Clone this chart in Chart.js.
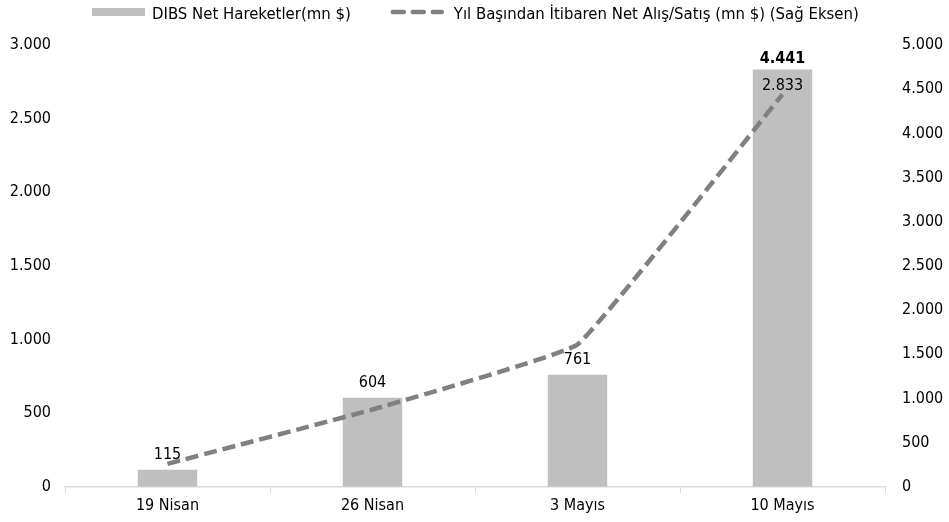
<!DOCTYPE html>
<html><head><meta charset="utf-8">
<script src="https://cdn.jsdelivr.net/npm/chart.js@4.4.1/dist/chart.umd.min.js"></script>
<style>html,body{margin:0;padding:0;background:#fff}#wrap{width:949px;height:522px}</style>
</head><body><div id="wrap"><canvas id="c" width="949" height="522"></canvas></div>
<script>
const categories = ['19 Nisan', '26 Nisan', '3 Mayıs', '10 Mayıs'];
const barValues = [115, 604, 761, 2833];
const lineValues = [260, 875, 1610, 4441];
const leftTicks = [0, 500, 1000, 1500, 2000, 2500, 3000];
const rightTicks = [0, 500, 1000, 1500, 2000, 2500, 3000, 3500, 4000, 4500, 5000];
const barLabel = 'DIBS Net Hareketler(mn $)';
const lineLabel = 'Yıl Başından İtibaren Net Alış/Satış (mn $) (Sağ Eksen)';

const FONT = "'DejaVu Sans Condensed', 'DejaVu Sans', sans-serif";
const BAR_COLOR = '#bfbfbf';
const LINE_COLOR = '#808080';
const fmt = v => String(Math.round(v)).replace(/\B(?=(\d{3})+(?!\d))/g, '.');

const labelPlugin = {
  id: 'vlabels',
  afterDatasetsDraw(chart) {
    const ctx = chart.ctx;
    ctx.save();
    ctx.fillStyle = '#000';
    ctx.textAlign = 'center';
    const barMeta = chart.getDatasetMeta(0);
    barMeta.data.forEach((el, i) => {
      ctx.font = '16px ' + FONT;
      const inside = i === barMeta.data.length - 1;
      ctx.textBaseline = inside ? 'top' : 'bottom';
      ctx.fillText(fmt(barValues[i]), el.x, inside ? el.y + 8 : el.y - 7);
    });
    const lineMeta = chart.getDatasetMeta(1);
    const last = lineMeta.data[lineMeta.data.length - 1];
    ctx.font = 'bold 16px ' + FONT;
    ctx.textBaseline = 'bottom';
    ctx.fillText(fmt(lineValues[lineValues.length - 1]), last.x, barMeta.data[barMeta.data.length-1].y - 3);
    ctx.restore();
  }
};

const legendPlugin = {
  id: 'customLegend',
  afterDraw(chart) {
    const ctx = chart.ctx;
    ctx.save();
    ctx.font = '16.6px ' + FONT;
    ctx.fillStyle = '#000';
    ctx.textAlign = 'left';
    ctx.textBaseline = 'alphabetic';
    const swatchW = 53, gapText = 7, gapItem = 40, cy = 12;
    let x = 92;
    ctx.fillStyle = BAR_COLOR;
    ctx.fillRect(x, cy - 4, swatchW, 8);
    x += swatchW + gapText;
    ctx.fillStyle = '#000';
    ctx.fillText(barLabel, x, 18.5);
    x += ctx.measureText(barLabel).width + gapItem;
    ctx.strokeStyle = LINE_COLOR;
    ctx.lineWidth = 4.5;
    ctx.lineCap = 'round';
    ctx.setLineDash([11, 9]);
    ctx.beginPath();
    ctx.moveTo(x + 2, cy);
    ctx.lineTo(x + swatchW - 2, cy);
    ctx.stroke();
    ctx.setLineDash([]);
    x += swatchW + 10;
    ctx.fillText(lineLabel, x, 18.5);
    ctx.restore();
  }
};

new Chart(document.getElementById('c'), {
  data: {
    labels: categories,
    datasets: [
      { type: 'bar', label: barLabel, data: barValues, yAxisID: 'y',
        backgroundColor: BAR_COLOR, borderWidth: 0,
        barPercentage: 0.29, categoryPercentage: 1, order: 2 },
      { type: 'line', label: lineLabel, data: lineValues, yAxisID: 'y1',
        borderColor: LINE_COLOR, backgroundColor: LINE_COLOR, borderWidth: 4.5,
        borderDash: [13, 6], pointRadius: 0, tension: 0.08, fill: false, order: 1 }
    ]
  },
  options: {
    responsive: false, animation: false,
    devicePixelRatio: 1,
    layout: { padding: { top: 45, left: 0, right: 0, bottom: 4 } },
    plugins: {
      tooltip: { enabled: false },
      legend: { display: false }
    },
    scales: {
      x: {
        offset: true,
        grid: { display: true, drawOnChartArea: false, drawTicks: true, tickLength: 6, color: '#d9d9d9', offset: true },
        border: { display: true, color: '#d9d9d9', width: 1.5 },
        ticks: { font: { family: FONT, size: 16 }, color: '#000', padding: 3 }
      },
      y: {
        position: 'left', min: 0, max: 3000,
        afterBuildTicks(s) { s.ticks = leftTicks.map(v => ({ value: v })); },
        afterFit(s) { s.width = 65; },
        grid: { display: false }, border: { display: false },
        ticks: { font: { family: FONT, size: 16 }, color: '#000', padding: 6, callback: v => fmt(v) }
      },
      y1: {
        position: 'right', min: 0, max: 5000,
        afterBuildTicks(s) { s.ticks = rightTicks.map(v => ({ value: v })); },
        afterFit(s) { s.width = 64; },
        grid: { display: false }, border: { display: false },
        ticks: { font: { family: FONT, size: 16 }, color: '#000', padding: 9, callback: v => fmt(v) }
      }
    }
  },
  plugins: [labelPlugin, legendPlugin]
});
</script></body></html>
